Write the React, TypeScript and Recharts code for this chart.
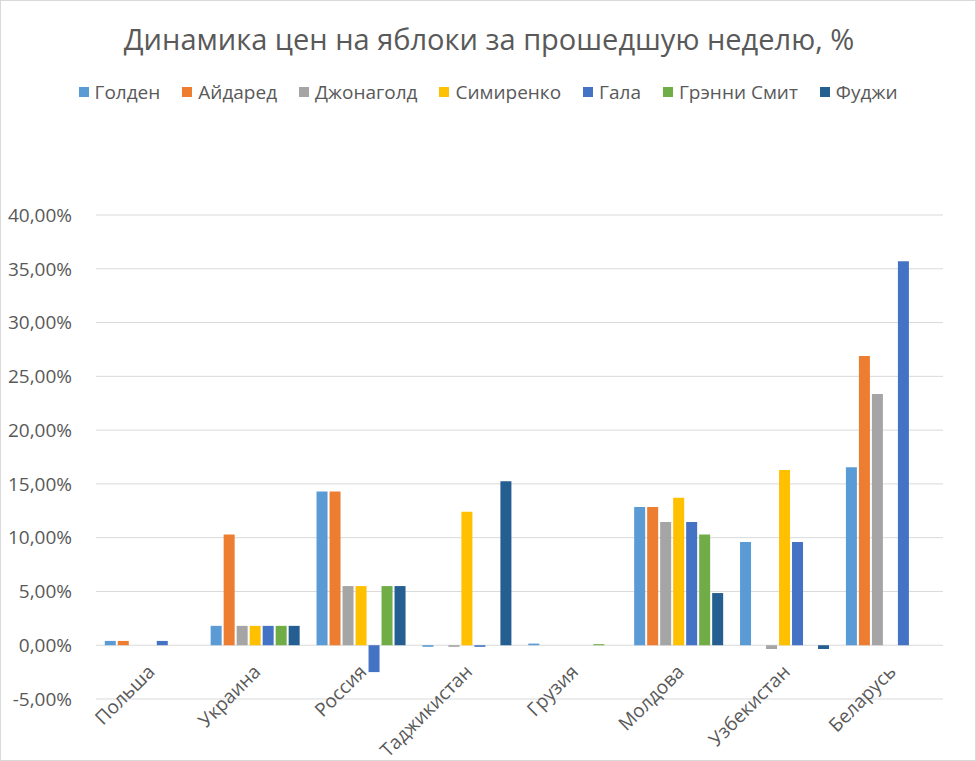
import React from 'react';
import { BarChart, Bar, XAxis, YAxis, CartesianGrid, Legend } from 'recharts';

const countries = ['Польша', 'Украина', 'Россия', 'Таджикистан', 'Грузия', 'Молдова', 'Узбекистан', 'Беларусь'];

const golden = [0.4, 1.8, 14.3, -0.15, 0.15, 12.85, 9.6, 16.55];
const idared = [0.4, 10.3, 14.3, 0, 0, 12.85, 0, 26.9];
const jonagold = [0, 1.8, 5.5, -0.15, 0, 11.45, -0.35, 23.35];
const simirenko = [0, 1.8, 5.5, 12.4, 0, 13.7, 16.3, 0];
const gala = [0.4, 1.8, -2.5, -0.15, 0, 11.45, 9.6, 35.7];
const granny = [0, 1.8, 5.5, 0, 0.1, 10.3, 0, 0];
const fuji = [0, 1.8, 5.5, 15.25, 0, 4.85, -0.35, 0];

const yTicks = [-5, 0, 5, 10, 15, 20, 25, 30, 35, 40];

const series = [
  { key: 'golden', name: 'Голден', color: '#5b9bd5', values: golden },
  { key: 'idared', name: 'Айдаред', color: '#ed7d31', values: idared },
  { key: 'jonagold', name: 'Джонаголд', color: '#a5a5a5', values: jonagold },
  { key: 'simirenko', name: 'Симиренко', color: '#ffc000', values: simirenko },
  { key: 'gala', name: 'Гала', color: '#4472c4', values: gala },
  { key: 'granny', name: 'Грэнни Смит', color: '#70ad47', values: granny },
  { key: 'fuji', name: 'Фуджи', color: '#255e91', values: fuji },
];

const data = countries.map((c, i) => {
  const row: Record<string, string | number> = { country: c };
  series.forEach((s) => { row[s.key] = s.values[i]; });
  return row;
});

const FONT = '"Open Sans", sans-serif';
const TEXT = '#595959';

const CountryTick = (props: any) => {
  const { x, y, payload } = props;
  return (
    <g transform={`translate(${x + 7},${y - 34})`}>
      <text textAnchor="end" transform="rotate(-45)" fill={TEXT} fontSize={19} fontFamily={FONT}>
        {payload.value}
      </text>
    </g>
  );
};

const LegendBox = () => (
  <div style={{ display: 'flex', justifyContent: 'center', fontFamily: FONT, fontSize: 19, color: TEXT, lineHeight: '24px' }}>
    {series.map((s, i) => (
      <div key={s.key} style={{ display: 'flex', alignItems: 'center', marginLeft: i === 0 ? 0 : 22 }}>
        <span style={{ display: 'inline-block', width: 10, height: 10, background: s.color, marginRight: 6 }} />
        {s.name}
      </div>
    ))}
  </div>
);

const fmt = (v: number) => `${v.toFixed(2).replace('.', ',')}%`;

const App: React.FC = () => {
  return (
    <div
      style={{
        position: 'fixed', left: 0, top: 0, width: 976, height: 761, boxSizing: 'border-box',
        border: '1px solid #d9d9d9', background: '#fff', fontFamily: FONT,
      }}
    >
      <div style={{ position: 'absolute', top: 18, left: 0, width: 976, textAlign: 'center', fontSize: 29, color: TEXT }}>
        Динамика цен на яблоки за прошедшую неделю, %
      </div>
      <div style={{ position: 'absolute', left: -1, top: -1 }}>
        <BarChart width={976} height={761} data={data} margin={{ top: 191, right: 33, left: 0, bottom: 0 }}
          barCategoryGap="8.3%" barGap={2}>
          <CartesianGrid vertical={false} stroke="#d9d9d9" />
          <XAxis dataKey="country" height={62} axisLine={false} tickLine={false} interval={0} tick={<CountryTick />} />
          <YAxis width={96} domain={[-5, 40]} ticks={yTicks} tickFormatter={fmt} axisLine={false} tickLine={false}
            tick={{ fill: TEXT, fontSize: 19, fontFamily: FONT }} tickMargin={18} interval={0} />
          <Legend verticalAlign="top" content={<LegendBox />}
            wrapperStyle={{ top: 80, left: 0, width: 976 }} />
          {series.map((s) => (
            <Bar key={s.key} dataKey={s.key} name={s.name} fill={s.color} isAnimationActive={false} />
          ))}
        </BarChart>
      </div>
    </div>
  );
};

export default App;
